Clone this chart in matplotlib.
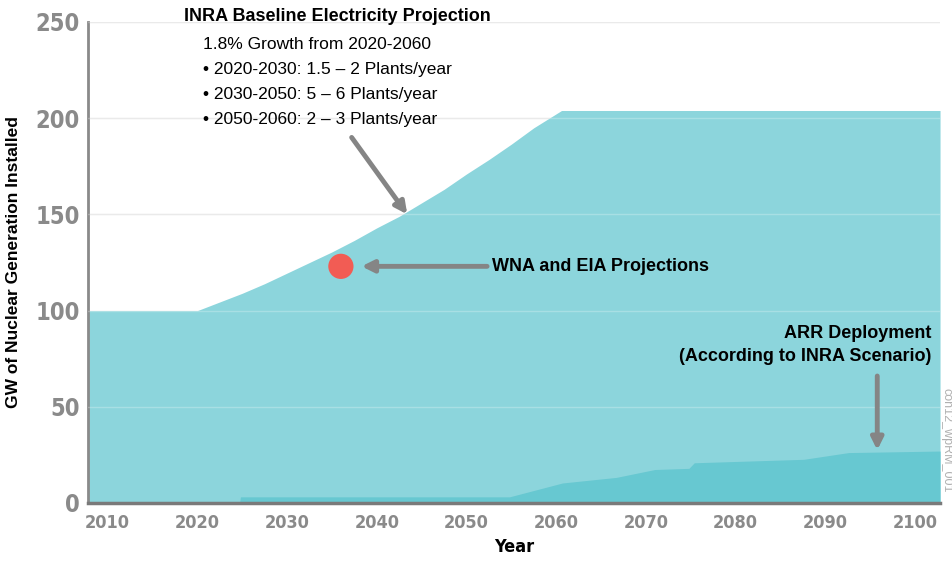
import matplotlib
matplotlib.use("Agg")
import matplotlib.pyplot as plt

# INRA baseline: installed nuclear capacity (GW)
base_years = [2007.8, 2020, 2022.5, 2025, 2027.5, 2030, 2032.5, 2035, 2037.5, 2040,
              2042.5, 2045, 2047.5, 2050, 2052.5, 2055, 2057.5, 2060.6, 2102.8]
base_gw = [100, 100, 104.5, 109, 114, 119.5, 125, 130.5, 136.5, 143,
           149, 156, 163, 171, 178.5, 186.5, 195, 204, 204]

# ARR deployment (GW)
arr_years = [2024.7, 2024.8, 2054.8, 2060.7, 2066.7, 2071, 2074.8, 2075.4, 2087.6, 2092.6, 2102.8]
arr_gw = [0, 3.2, 3.2, 10.4, 13.3, 17.4, 18.0, 20.9, 22.7, 26.2, 27.0]

# WNA / EIA point
wna_year = [2036]
wna_gw = [123]

xticks = [2010, 2020, 2030, 2040, 2050, 2060, 2070, 2080, 2090, 2100]
yticks = [0, 50, 100, 150, 200, 250]

narrow = ['DejaVu Sans', 'Liberation Sans']
plt.rcParams['font.family'] = ['Liberation Sans', 'DejaVu Sans']

fig = plt.figure(figsize=(9.53, 5.61), dpi=100)
ax = fig.add_axes([0.0923, 0.1034, 0.8941, 0.8574])

ax.fill_between(base_years, 0, base_gw, color='#8cd5dc', lw=0, zorder=1)
ax.fill_between(arr_years, 0, arr_gw, color='#67c8d1', lw=0, zorder=2)

for y in yticks[1:]:
    ax.axhline(y, color='#e4e4e4', lw=1, zorder=0)
    ax.axhline(y, color='white', lw=1, alpha=0.25, zorder=3)

ax.scatter(wna_year, wna_gw, s=330, color='#f25c54', zorder=5, edgecolors='none')

ax.set_xlim(2007.8, 2102.8)
ax.set_ylim(0, 250)
ax.set_xticks(xticks)
ax.set_yticks(yticks)
ax.set_xticklabels([str(x) for x in xticks], fontsize=13, fontweight='bold',
                   color='#8a8a8a', family=narrow, fontstretch='condensed')
ax.set_yticklabels([str(y) for y in yticks], fontsize=17, fontweight='bold',
                   color='#8a8a8a', family=narrow, fontstretch='condensed')
ax.tick_params(length=0, pad=6)
ax.tick_params(axis='x', pad=8)

for s in ['top', 'right']:
    ax.spines[s].set_visible(False)
ax.spines['left'].set_color('#8a8a8a')
ax.spines['left'].set_linewidth(2)
ax.spines['bottom'].set_color('#7a7a7a')
ax.spines['bottom'].set_linewidth(2.5)
ax.spines['bottom'].set_zorder(6)

ax.set_ylabel('GW of Nuclear Generation Installed', fontsize=12.5,
              fontweight='bold', labelpad=10)
ax.set_xlabel('Year', fontsize=13, fontweight='bold', family=narrow,
              fontstretch='condensed', labelpad=4)

# annotations
ax.text(2018.5, 253, 'INRA Baseline Electricity Projection', fontsize=13,
        fontweight='bold', ha='left', va='center', zorder=6)
lines = ['1.8% Growth from 2020-2060',
         '\u2022 2020-2030: 1.5 \u2013 2 Plants/year',
         '\u2022 2030-2050: 5 \u2013 6 Plants/year',
         '\u2022 2050-2060: 2 \u2013 3 Plants/year']
for i, t in enumerate(lines):
    ax.text(2020.6, 238.5 - i * 13, t, fontsize=12.5, ha='left', va='center', zorder=6)

arrow = dict(arrowstyle='-|>,head_length=0.7,head_width=0.35', color='#858585', lw=3.5,
             shrinkA=0, shrinkB=0)
ax.annotate('', xy=(2043.4, 150), xytext=(2037.2, 190), arrowprops=arrow, zorder=6)
ax.annotate('', xy=(2038.3, 123), xytext=(2052.3, 123), arrowprops=arrow, zorder=6)
ax.annotate('', xy=(2095.8, 27.5), xytext=(2095.8, 66), arrowprops=arrow, zorder=6)

ax.text(2052.8, 123, 'WNA and EIA Projections', fontsize=13, fontweight='bold',
        ha='left', va='center', zorder=6)
ax.text(2101.8, 82, 'ARR Deployment\n(According to INRA Scenario)', fontsize=13,
        fontweight='bold', ha='right', va='center', multialignment='right',
        linespacing=1.45, zorder=6)

fig.text(0.993, 0.215, 'con12_wpRM_001', rotation=270, fontsize=9, color='#b0b0b0',
         ha='center', va='center')

fig.savefig('out.png', dpi=100)
